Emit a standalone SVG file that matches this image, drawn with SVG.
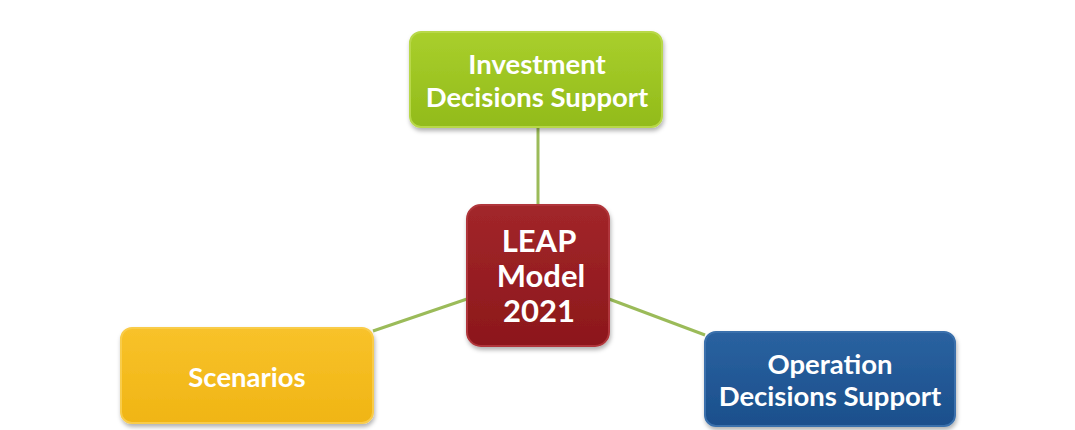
<svg xmlns="http://www.w3.org/2000/svg" width="1075" height="430" viewBox="0 0 1075 430">
<defs>
<linearGradient id="gGreen" x1="0" y1="0" x2="0" y2="1"><stop offset="0" stop-color="#a9cf2c"/><stop offset="1" stop-color="#92bb1a"/></linearGradient>
<linearGradient id="gRed" x1="0" y1="0" x2="0" y2="1"><stop offset="0" stop-color="#a2262a"/><stop offset="1" stop-color="#8c171b"/></linearGradient>
<linearGradient id="gYellow" x1="0" y1="0" x2="0" y2="1"><stop offset="0" stop-color="#f8c22a"/><stop offset="1" stop-color="#f0b514"/></linearGradient>
<linearGradient id="gBlue" x1="0" y1="0" x2="0" y2="1"><stop offset="0" stop-color="#2a62a0"/><stop offset="1" stop-color="#1b4f8c"/></linearGradient>
<filter id="sh" x="-10%" y="-10%" width="120%" height="130%"><feDropShadow dx="1" dy="3" stdDeviation="2" flood-color="#000" flood-opacity="0.3"/></filter>
</defs>
<style>
.lbl{font-family:Lato,"Open Sans","Liberation Sans",sans-serif;font-weight:bold;fill:#fff;text-anchor:middle}
.conn line{stroke:#9bbb59;stroke-width:3}
.box{stroke-width:2;filter:url(#sh)}
</style>
<rect width="1075" height="430" fill="#fff"/>
<g class="conn">
<line x1="538" y1="127" x2="538" y2="205"/>
<line x1="373" y1="331" x2="467" y2="299"/>
<line x1="609" y1="299" x2="705" y2="335"/>
</g>
<g id="investment">
<rect class="box" x="410" y="32" width="252" height="95" rx="11" fill="url(#gGreen)" stroke="#b8d84a"/>
<text class="lbl" x="537" y="74" font-size="27.5">Investment</text>
<text class="lbl" x="537" y="107" font-size="27.5">Decisions Support</text>
</g>
<g id="leap">
<rect class="box" x="467" y="205" width="142" height="141" rx="14" fill="url(#gRed)" stroke="#b0363a"/>
<text class="lbl" x="539" y="252" font-size="31">LEAP</text>
<text class="lbl" x="541" y="287" font-size="31">Model</text>
<text class="lbl" x="539" y="322" font-size="31">2021</text>
</g>
<g id="scenarios">
<rect class="box" x="121" y="328" width="252" height="95" rx="11" fill="url(#gYellow)" stroke="#f9cc4a"/>
<text class="lbl" x="247" y="387" font-size="27.5">Scenarios</text>
</g>
<g id="operation">
<rect class="box" x="705" y="332" width="250" height="94" rx="11" fill="url(#gBlue)" stroke="#3a70ac"/>
<text class="lbl" x="830" y="374" font-size="27.5">Operation</text>
<text class="lbl" x="830" y="406" font-size="27.5">Decisions Support</text>
</g>
</svg>
